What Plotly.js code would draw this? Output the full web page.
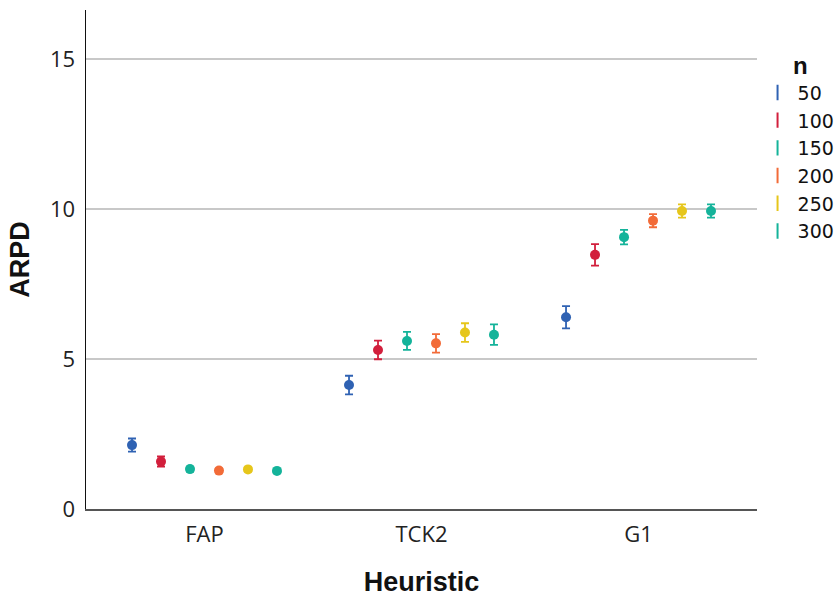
<!DOCTYPE html>
<html>
<head>
<meta charset="utf-8">
<script src="https://cdn.plot.ly/plotly-3.0.1.min.js"></script>
<style>html,body{margin:0;padding:0;background:#fff;}#chart{width:838px;height:597px;}</style>
</head>
<body>
<div id="chart"></div>
<script>
// Categories (x axis)
const heuristics = ['FAP', 'TCK2', 'G1'];
// Series (legend "n")
const sizes = ['50', '100', '150', '200', '250', '300'];
const colors = ['#2F62B3', '#D21F3C', '#14B39A', '#F26B38', '#E6C61B', '#14B39A'];
// Mean ARPD per series, in heuristic order
const mean50  = [2.13, 4.13, 6.39];
const mean100 = [1.58, 5.30, 8.47];
const mean150 = [1.33, 5.60, 9.06];
const mean200 = [1.28, 5.52, 9.61];
const mean250 = [1.32, 5.88, 9.93];
const mean300 = [1.27, 5.81, 9.93];
// Error bar half-widths
const err50  = [0.22, 0.31, 0.37];
const err100 = [0.17, 0.31, 0.36];
const err150 = [0.08, 0.30, 0.24];
const err200 = [0.07, 0.31, 0.22];
const err250 = [0.07, 0.31, 0.22];
const err300 = [0.07, 0.34, 0.22];

const means = [mean50, mean100, mean150, mean200, mean250, mean300];
const errs = [err50, err100, err150, err200, err250, err300];
const slot = 0.1336;

const traces = [];
sizes.forEach((s, i) => {
  traces.push({
    type: 'scatter', mode: 'markers', name: s, showlegend: false,
    x: heuristics.map((_, j) => j + (i - 2.5) * slot),
    y: means[i],
    marker: {color: colors[i], size: 10},
    error_y: {type: 'data', array: errs[i], visible: true, color: colors[i], thickness: 1.8, width: 4},
    hoverinfo: 'y'
  });
});
sizes.forEach((s, i) => {
  traces.push({
    type: 'scatter', mode: 'markers', name: s, showlegend: true,
    x: [null], y: [null],
    marker: {color: colors[i], size: 11, symbol: 'line-ns-open', line: {color: colors[i], width: 2}}
  });
});

const layout = {
  width: 838, height: 597,
  margin: {l: 86, r: 81, t: 10, b: 88},
  paper_bgcolor: '#fff', plot_bgcolor: '#fff',
  showlegend: true,
  legend: {
    xref: 'container', yref: 'container',
    x: 0.904, xanchor: 'left', y: 0.929, yanchor: 'top',
    tracegroupgap: 0,
    font: {family: 'DejaVu Sans, sans-serif', size: 19, color: '#111'},
    title: {text: '&nbsp;&nbsp;&nbsp;&nbsp;&nbsp;<b>n</b>', side: 'top', font: {family: 'Liberation Sans, Arial, sans-serif', size: 24, color: '#111'}},
    bgcolor: 'rgba(0,0,0,0)', borderwidth: 0
  },
  xaxis: {
    type: 'linear', range: [-0.546, 2.546],
    tickvals: [0, 1, 2], ticktext: heuristics,
    showgrid: false, zeroline: false,
    showline: true, linecolor: '#555', linewidth: 1.5,
    ticks: '', ticklabelstandoff: 5,
    tickfont: {family: 'Open Sans, sans-serif', size: 22, color: '#222'},
    title: {text: '<b>Heuristic</b>', font: {family: 'Liberation Sans, Arial, sans-serif', size: 27, color: '#111'}, standoff: 25},
    fixedrange: true
  },
  yaxis: {
    range: [0, 16.63],
    tickvals: [0, 5, 10, 15],
    showgrid: true, gridcolor: '#C8C8C8', gridwidth: 1.2,
    zeroline: false,
    showline: true, linecolor: '#111', linewidth: 1.5,
    ticks: '', ticklabelstandoff: 5,
    tickfont: {family: 'Open Sans, sans-serif', size: 22, color: '#222'},
    title: {text: '<b>ARPD</b>', font: {family: 'Liberation Sans, Arial, sans-serif', size: 27, color: '#111'}, standoff: 12},
    fixedrange: true
  }
};

Plotly.newPlot('chart', traces, layout, {displayModeBar: false, staticPlot: true});
</script>
</body>
</html>
